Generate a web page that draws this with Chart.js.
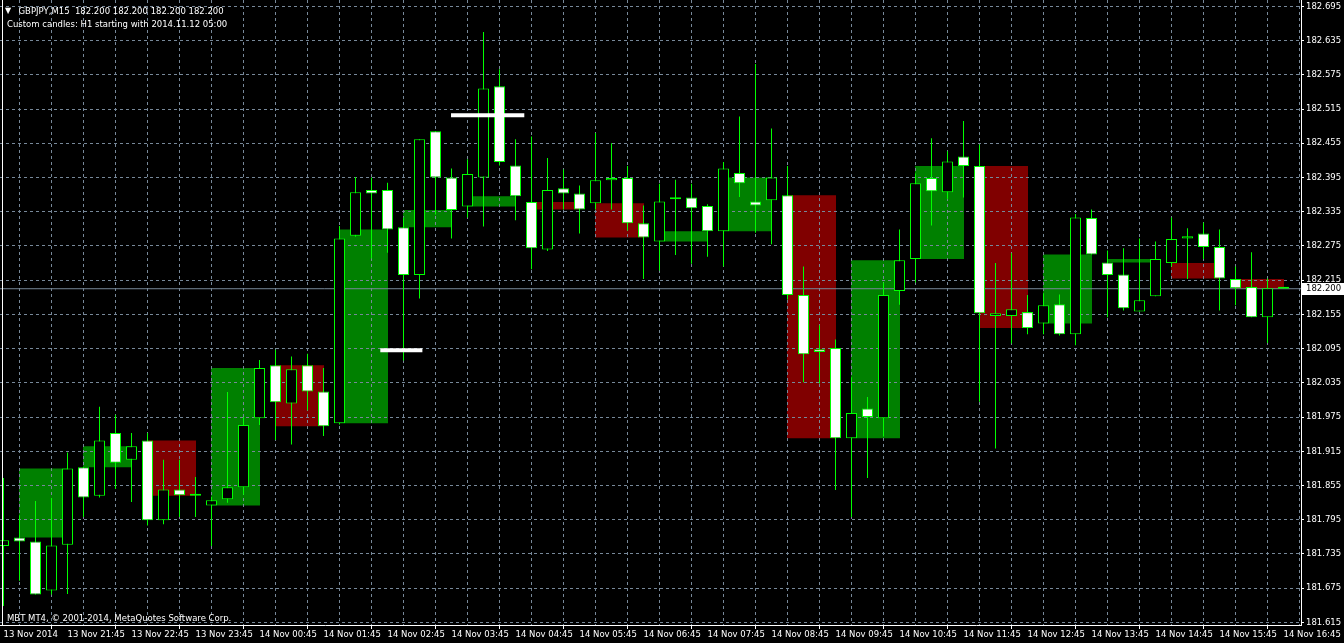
<!DOCTYPE html>
<html>
<head>
<meta charset="utf-8">
<script src="https://cdn.jsdelivr.net/npm/chart.js@4.4.1/dist/chart.umd.min.js"></script>
<style>
html,body{margin:0;padding:0;background:#000;overflow:hidden}
#wrap{width:1344px;height:643px;position:relative}
</style>
</head>
<body>
<div id="wrap"><canvas id="c" width="1344" height="643"></canvas></div>
<script>
// ---------- texts ----------
const symbolTitle = 'GBPJPY,M15  182.200 182.200 182.200 182.200';
const subTitle = 'Custom candles: H1 starting with 2014.11.12 05:00';
const footerText = 'MBT MT4, \u00A9 2001-2014, MetaQuotes Software Corp.';

// ---------- M15 bars (13 Nov 20:45 ... 14 Nov 16:45) ----------
const openP = [181.749,181.764,181.757,181.671,181.751,181.887,181.837,181.947,181.900,181.934,
181.794,181.848,181.837,181.820,181.831,181.852,181.973,182.066,181.999,182.066,
182.020,181.964,182.293,182.373,182.373,182.308,182.224,182.476,182.395,182.344,
182.395,182.555,182.416,182.352,182.269,182.376,182.367,182.350,182.390,182.394,
182.315,182.283,182.360,182.360,182.345,182.301,182.403,182.353,182.355,182.364,
182.189,182.094,182.096,181.938,181.990,181.973,182.196,182.252,182.394,182.369,
182.432,182.415,182.152,182.152,182.159,182.139,182.173,182.120,182.324,182.246,
182.225,182.160,182.187,182.245,182.288,182.297,182.273,182.217,182.203,182.150,
182.200];
const highP = [181.868,181.803,181.828,181.833,181.913,181.887,181.993,181.979,181.947,181.947,
181.900,181.900,181.870,181.835,182.019,181.975,182.075,182.093,182.081,182.086,
182.061,182.310,182.396,182.395,182.386,182.325,182.462,182.476,182.411,182.427,
182.650,182.585,182.462,182.467,182.429,182.409,182.381,182.473,182.455,182.415,
182.346,182.384,182.391,182.384,182.348,182.422,182.502,182.594,182.481,182.415,
182.239,182.136,182.111,182.045,182.010,182.211,182.304,182.402,182.464,182.441,
182.494,182.453,182.245,182.262,182.189,182.192,182.190,182.331,182.339,182.267,
182.271,182.288,182.283,182.325,182.306,182.316,182.304,182.239,182.264,182.218,
182.200];
const lowP = [181.644,181.688,181.664,181.664,181.665,181.800,181.834,181.849,181.826,181.785,
181.787,181.800,181.800,181.749,181.825,181.839,181.961,181.935,181.927,181.987,
181.942,181.962,182.291,182.253,182.263,182.074,182.183,182.330,182.288,182.325,
182.309,182.416,182.320,182.234,182.266,182.339,182.297,182.339,182.339,182.302,
182.217,182.232,182.259,182.244,182.256,182.239,182.361,182.298,182.278,182.181,
182.036,182.034,181.847,181.800,181.868,181.941,182.172,182.211,182.311,182.357,
182.360,182.002,181.920,182.104,182.120,182.120,182.118,182.101,182.260,182.150,
182.162,182.160,182.187,182.239,182.217,182.252,182.162,182.171,182.150,182.105,
182.200];
const closeP = [181.759,181.757,181.664,181.750,181.885,181.834,181.934,181.895,181.924,181.794,
181.848,181.838,181.837,181.829,181.852,181.961,182.061,182.001,182.059,182.020,
181.959,182.288,182.369,182.367,182.304,182.224,182.462,182.395,182.338,182.401,
182.551,182.422,182.362,182.271,182.373,182.367,182.339,182.390,182.394,182.315,
182.290,182.353,182.357,182.341,182.301,182.411,182.385,182.346,182.395,182.189,
182.085,182.089,181.938,181.982,181.975,182.189,182.250,182.385,182.371,182.423,
182.415,182.157,182.157,182.164,182.131,182.171,182.120,182.325,182.260,182.224,
182.166,182.180,182.252,182.287,182.292,182.273,182.218,182.201,182.150,182.201,
182.200];

// H1 custom candles: first full hour starts at bar 1 (21:00), 4 bars per hour
const firstH1Bar = 1;
const barsPerH1 = 4;

// ---------- axes ----------
const xTickLabels = ['13 Nov 2014','13 Nov 21:45','13 Nov 22:45','13 Nov 23:45','14 Nov 00:45',
'14 Nov 01:45','14 Nov 02:45','14 Nov 03:45','14 Nov 04:45','14 Nov 05:45','14 Nov 06:45',
'14 Nov 07:45','14 Nov 08:45','14 Nov 09:45','14 Nov 10:45','14 Nov 11:45','14 Nov 12:45',
'14 Nov 13:45','14 Nov 14:45','14 Nov 15:45','14 Nov 16:45'];
const yTickValues = [182.695,182.635,182.575,182.515,182.455,182.395,182.335,182.275,182.215,
182.155,182.095,182.035,181.975,181.915,181.855,181.795,181.735,181.675,181.615];
const currentPrice = 182.200;

// ---------- chart objects (white horizontal lines) ----------
const objLineA = {from: 27.97, to: 32.55, price: 182.504};
const objLineB = {from: 23.55, to: 26.18, price: 182.092};

// ---------- build datasets ----------
const nBars = openP.length;
const wickData = [], bodyData = [], bodyFill = [];
for (let i = 0; i < nBars; i++) {
  wickData.push({x: i, y: [lowP[i], highP[i]]});
  bodyData.push({x: i, y: [openP[i], closeP[i]]});
  bodyFill.push(closeP[i] < openP[i] ? '#ffffff' : '#000000');
}
const h1Data = [], h1Fill = [];
for (let s = firstH1Bar; s + barsPerH1 - 1 < nBars; s += barsPerH1) {
  const e = s + barsPerH1 - 1;
  h1Data.push({x: (s + e) / 2, y: [openP[s], closeP[e]]});
  h1Fill.push(closeP[e] >= openP[s] ? '#008000' : '#800000');
}
const xGridBars = [];
for (let i = 0; i < nBars; i += 2) xGridBars.push(i);

const FONT = 'DejaVu Sans, Verdana, sans-serif';
const FSIZE = 8.5;
const GRID = '#778899';

const gridOverBoxes = {
  id: 'gridOverBoxes',
  beforeDatasetDraw(chart, args) {
    if (chart.data.datasets[args.index].tag === 'price') {
      chart.ctx.save();
      chart.scales.x.drawGrid(chart.chartArea);
      chart.scales.y.drawGrid(chart.chartArea);
      chart.ctx.restore();
    }
  }
};

const overlayText = {
  id: 'overlayText',
  afterDraw(chart) {
    const ctx = chart.ctx, ca = chart.chartArea, y = chart.scales.y;
    ctx.save();
    // left frame line
    ctx.fillStyle = '#ffffff';
    ctx.fillRect(ca.left + 2, ca.top, 1, ca.bottom - ca.top);
    // header
    ctx.fillStyle = '#ffffff';
    ctx.textBaseline = 'alphabetic';
    ctx.font = '8px DejaVu Sans, sans-serif';
    ctx.fillText('\u25BC', 5, 13);
    ctx.font = FSIZE + 'px ' + FONT;
    ctx.fillText(symbolTitle, 18.5, 14);
    ctx.fillText(subTitle, 7, 27);
    ctx.fillText(footerText, 7, 620.5);
    // current price label
    const py = y.getPixelForValue(currentPrice);
    ctx.fillStyle = '#ffffff';
    ctx.fillRect(ca.right + 1, Math.round(py) - 6, 1344 - ca.right - 1, 12);
    ctx.fillStyle = '#000000';
    ctx.textBaseline = 'middle';
    ctx.fillText(currentPrice.toFixed(3), ca.right + 5, py + 0.5);
    ctx.restore();
  }
};

new Chart(document.getElementById('c'), {
  type: 'bar',
  data: {
    datasets: [
      {type: 'line', tag: 'objA', data: [{x: objLineA.from, y: objLineA.price}, {x: objLineA.to, y: objLineA.price}],
       borderColor: '#ffffff', borderWidth: 4, pointRadius: 0, borderCapStyle: 'butt', order: 1},
      {type: 'line', tag: 'objB', data: [{x: objLineB.from, y: objLineB.price}, {x: objLineB.to, y: objLineB.price}],
       borderColor: '#ffffff', borderWidth: 4, pointRadius: 0, borderCapStyle: 'butt', order: 1},
      {tag: 'body', data: bodyData, backgroundColor: bodyFill, borderColor: '#00ff00', borderWidth: 1,
       borderSkipped: false, barThickness: 11, minBarLength: 2, grouped: false, inflateAmount: 0, order: 2},
      {tag: 'wick', data: wickData, backgroundColor: '#00ff00', borderWidth: 0,
       barThickness: 1, grouped: false, inflateAmount: 0, order: 3},
      {type: 'line', tag: 'price', data: [{x: -5, y: currentPrice}, {x: 90, y: currentPrice}],
       borderColor: GRID, borderWidth: 1, pointRadius: 0, order: 4},
      {tag: 'h1', data: h1Data, backgroundColor: h1Fill, borderWidth: 0,
       barThickness: 49, grouped: false, inflateAmount: 0, order: 5}
    ]
  },
  options: {
    responsive: false,
    animation: false,
    devicePixelRatio: 1,
    events: [],
    layout: {padding: 0},
    plugins: {legend: {display: false}, tooltip: {enabled: false}, title: {display: false}},
    scales: {
      x: {
        type: 'linear',
        offset: false,
        min: -3.5 / 16,
        max: -3.5 / 16 + 1301 / 16,
        afterBuildTicks(scale) { scale.ticks = xGridBars.map(v => ({value: v})); },
        afterFit(scale) { scale.height = 18; scale.paddingLeft = 0; scale.paddingRight = 0; },
        grid: {
          color: GRID, lineWidth: 1, drawTicks: true, tickLength: 4,
          tickColor: c => (c.tick && c.tick.value % 4 === 0) ? '#ffffff' : 'rgba(0,0,0,0)'
        },
        border: {display: true, color: '#ffffff', width: 1, dash: [3, 3]},
        ticks: {
          autoSkip: false, maxRotation: 0, minRotation: 0, align: 'start', padding: 1,
          color: '#ffffff', font: {family: FONT, size: FSIZE},
          callback: v => (v % 4 === 0) ? xTickLabels[v / 4] : ''
        }
      },
      y: {
        type: 'linear',
        position: 'right',
        min: 181.915 - (625 - 451.3) / 570.4,
        max: 181.915 + 451.3 / 570.4,
        afterBuildTicks(scale) { scale.ticks = yTickValues.map(v => ({value: v})); },
        afterFit(scale) { scale.width = 43; scale.paddingTop = 0; scale.paddingBottom = 0; },
        grid: {color: GRID, lineWidth: 1, drawTicks: true, tickLength: 3, tickColor: '#ffffff'},
        border: {display: true, color: '#ffffff', width: 1, dash: [3, 3]},
        ticks: {
          autoSkip: false, padding: 2, crossAlign: 'near',
          color: '#ffffff', font: {family: FONT, size: FSIZE},
          callback: v => Number(v).toFixed(3)
        }
      }
    }
  },
  plugins: [gridOverBoxes, overlayText]
});
</script>
</body>
</html>
